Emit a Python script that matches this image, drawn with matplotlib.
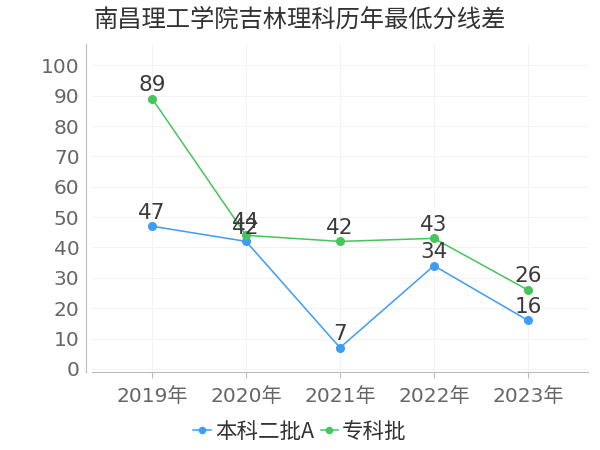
import numpy as np
import matplotlib
matplotlib.use('Agg')
import matplotlib.pyplot as plt

plt.rcParams['font.family'] = ['DejaVu Sans', 'Noto Sans CJK SC']

years = ['2019年', '2020年', '2021年', '2022年', '2023年']
benke = [47, 42, 7, 34, 16]
zhuanke = [89, 44, 42, 43, 26]

blue = '#3d9df5'
green = '#45c55a'
cjk = ['Noto Sans CJK SC', 'DejaVu Sans']

fig = plt.figure(figsize=(6, 4.5), dpi=100)
ax = fig.add_axes([92 / 600, 1 - 372 / 450, 496 / 600, 328 / 450])

x = np.arange(len(years))
ax.plot(x, benke, color=blue, lw=1.1, marker='o', ms=5.5, label='本科二批A', zorder=3)
ax.plot(x, zhuanke, color=green, lw=1.1, marker='o', ms=5.5, label='专科批', zorder=3)

# 数据标签
for xi, v in zip(x, benke):
    ax.text(xi, v + 1.2, str(v), ha='center', va='bottom', fontsize=15.5, color='#3a3a3a', zorder=4)
for xi, v in zip(x, zhuanke):
    ax.text(xi, v + 1.2, str(v), ha='center', va='bottom', fontsize=15.5, color='#3a3a3a', zorder=4)

ax.set_xlim(-0.64, 4.64)
ax.set_ylim(-1, 107)
ax.set_xticks(x)
ax.set_xticklabels(years)
ax.set_yticks(range(0, 101, 10))
ax.tick_params(axis='both', labelsize=14.5, labelcolor='#666666', length=4, width=0.8)
ax.tick_params(axis='y', length=0, pad=5)
ax.tick_params(axis='x', color='#bbbbbb', pad=7)

ax.grid(True, color='#f3f3f3', lw=0.8)
ax.set_axisbelow(True)
ax.spines['top'].set_visible(False)
ax.spines['right'].set_visible(False)
ax.spines['left'].set_color('#bbbbbb')
ax.spines['bottom'].set_color('#bbbbbb')
ax.spines['left'].set_position(('outward', 4))

fig.text(0.5, 1 - 20 / 450, '南昌理工学院吉林理科历年最低分线差', ha='center', va='center',
         fontsize=17.5, color='#333333', family=cjk)

leg = fig.legend(loc='center', bbox_to_anchor=(0.5, 1 - 432 / 450), ncol=2, frameon=False,
                 prop={'family': cjk, 'size': 15.5}, handlelength=0.8, handletextpad=0.2,
                 columnspacing=0.3, markerscale=0.8)
for t in leg.get_texts():
    t.set_color('#333333')

fig.savefig('out.png', dpi=100)
